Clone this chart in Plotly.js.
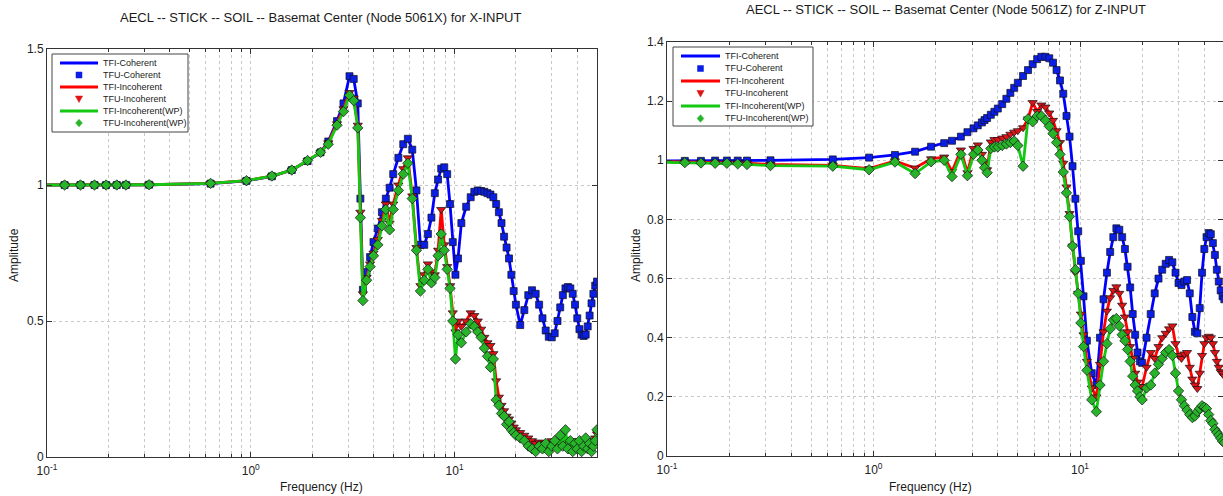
<!DOCTYPE html>
<html><head><meta charset="utf-8">
<script src="https://cdn.plot.ly/plotly-3.0.1.min.js"></script>
<style>html,body{margin:0;padding:0;background:#fff;}#chart{width:1223px;height:496px;}</style>
</head><body><div id="chart"></div>
<script>
// Frequency grid (Hz)
const freq = [
  0.1, 0.122, 0.146, 0.171, 0.195, 0.22, 0.244, 0.317,
  0.635, 0.952, 1.27, 1.59, 1.9, 2.2, 2.4, 2.65, 2.85,
  3.05, 3.2, 3.35, 3.45, 3.55, 3.7, 3.85, 4.0,
  4.2, 4.4, 4.6, 4.8, 5.0, 5.3, 5.6, 5.9, 6.2, 6.5,
  6.8, 7.1, 7.4, 7.7, 8.0, 8.3, 8.6, 8.9, 9.2, 9.5, 9.8,
  10.1, 10.4, 10.8, 11.4, 12, 12.5, 13, 13.5, 14, 14.5,
  15, 15.5, 16, 16.5, 17, 17.5, 18, 18.5, 19, 19.5,
  20, 21, 22, 23, 24, 25, 26, 27, 28, 29, 30, 31, 32, 33, 34, 35,
  36, 37, 38, 39, 40, 41, 42, 43, 44, 45, 46, 47, 48, 49, 50
];

// X-INPUT, Node 5061X
const xCoherent = [
  1.000, 1.000, 1.000, 1.000, 1.000, 1.000, 1.000, 1.001,
  1.005, 1.015, 1.032, 1.055, 1.088, 1.12, 1.16, 1.235, 1.30,
  1.40, 1.39, 1.30, 0.95, 0.615, 0.68, 0.735, 0.79,
  0.84, 0.90, 0.95, 0.99, 1.04, 1.10, 1.15, 1.17, 1.13, 0.98,
  0.78, 0.78, 0.82, 0.88, 0.97, 1.02, 1.06, 1.065, 1.04, 0.93, 0.79,
  0.67, 0.73, 0.86, 0.92, 0.955, 0.975, 0.98, 0.978, 0.975, 0.97,
  0.965, 0.955, 0.93, 0.90, 0.86, 0.81, 0.77, 0.73, 0.67, 0.61,
  0.56, 0.485, 0.54, 0.595, 0.613, 0.60, 0.56, 0.51, 0.465, 0.442, 0.44, 0.455, 0.50, 0.55, 0.595, 0.62,
  0.625, 0.62, 0.60, 0.56, 0.51, 0.47, 0.45, 0.445, 0.45, 0.48, 0.52, 0.565, 0.60, 0.63, 0.645
];
const xIncoherent = [
  1.000, 1.000, 1.000, 1.000, 1.000, 1.000, 1.000, 1.001,
  1.006, 1.016, 1.033, 1.055, 1.09, 1.12, 1.155, 1.225, 1.28,
  1.34, 1.32, 1.22, 0.90, 0.60, 0.66, 0.71, 0.75,
  0.80, 0.87, 0.93, 0.86, 0.93, 1.00, 1.06, 1.10, 0.96, 0.77,
  0.63, 0.67, 0.71, 0.68, 0.67, 0.76, 0.91, 0.78, 0.70, 0.63, 0.53,
  0.46, 0.50, 0.48, 0.50, 0.53, 0.52, 0.50, 0.47, 0.44, 0.42,
  0.41, 0.38, 0.28, 0.22, 0.19, 0.17, 0.15, 0.14, 0.125, 0.11,
  0.10, 0.09, 0.08, 0.07, 0.06, 0.05, 0.055, 0.05, 0.045, 0.05, 0.06, 0.05, 0.055, 0.05, 0.06, 0.065,
  0.055, 0.05, 0.06, 0.055, 0.05, 0.05, 0.055, 0.05, 0.045, 0.05, 0.05, 0.055, 0.06, 0.07, 0.085
];
const xIncoherentWP = [
  1.000, 1.000, 1.000, 1.000, 1.000, 1.000, 1.000, 1.001,
  1.006, 1.016, 1.033, 1.055, 1.09, 1.12, 1.15, 1.22, 1.27,
  1.33, 1.31, 1.21, 0.88, 0.575, 0.65, 0.70, 0.74,
  0.78, 0.85, 0.91, 0.835, 0.91, 0.98, 1.04, 1.08, 0.95, 0.76,
  0.61, 0.65, 0.69, 0.64, 0.66, 0.74, 0.82, 0.76, 0.69, 0.62, 0.50,
  0.36, 0.45, 0.42, 0.46, 0.49, 0.48, 0.46, 0.44, 0.40, 0.37,
  0.33, 0.36, 0.21, 0.19, 0.16, 0.15, 0.12, 0.13, 0.10, 0.09,
  0.08, 0.07, 0.06, 0.04, 0.03, 0.02, 0.04, 0.03, 0.05, 0.02, 0.04, 0.06, 0.03, 0.08, 0.04, 0.10,
  0.03, 0.06, 0.02, 0.05, 0.03, 0.06, 0.02, 0.04, 0.07, 0.03, 0.05, 0.02, 0.04, 0.06, 0.10
];

// Z-INPUT, Node 5061Z
const zCoherent = [
  0.998, 0.998, 0.998, 0.999, 0.999, 0.999, 0.999, 1.0,
  1.003, 1.009, 1.018, 1.029, 1.046, 1.058, 1.066, 1.08, 1.095,
  1.108, 1.118, 1.128, 1.136, 1.143, 1.154, 1.164, 1.175,
  1.19, 1.208, 1.228, 1.245, 1.262, 1.285, 1.305, 1.325, 1.342, 1.35,
  1.35, 1.345, 1.33, 1.305, 1.27, 1.225, 1.15, 1.08, 0.98, 0.87, 0.76,
  0.66, 0.54, 0.39, 0.28, 0.24, 0.40, 0.53, 0.62, 0.69, 0.74,
  0.77, 0.765, 0.74, 0.70, 0.64, 0.57, 0.48, 0.41, 0.35, 0.32,
  0.315, 0.40, 0.48, 0.55, 0.60, 0.63, 0.65, 0.663, 0.655, 0.62, 0.585, 0.578, 0.59, 0.595, 0.55, 0.47,
  0.42, 0.415, 0.50, 0.62, 0.70, 0.74, 0.754, 0.75, 0.72, 0.68, 0.63, 0.59, 0.56, 0.54, 0.53
];
const zIncoherent = [
  0.995, 0.994, 0.993, 0.993, 0.992, 0.991, 0.99, 0.986,
  0.983, 0.972, 0.998, 0.974, 1.005, 1.011, 0.962, 1.035, 0.958,
  1.04, 1.052, 1.02, 0.99, 0.968, 1.062, 1.07, 1.07,
  1.075, 1.08, 1.088, 1.095, 1.10, 1.11, 1.14, 1.195, 1.165, 1.187,
  1.18, 1.16, 1.135, 1.10, 1.06, 0.99, 0.91, 0.82, 0.71, 0.62, 0.55,
  0.48, 0.41, 0.32, 0.23, 0.20, 0.31, 0.42, 0.49, 0.535, 0.56,
  0.572, 0.55, 0.51, 0.47, 0.42, 0.37, 0.33, 0.28, 0.25, 0.235,
  0.235, 0.30, 0.35, 0.33, 0.37, 0.40, 0.415, 0.43, 0.44, 0.38, 0.34, 0.33, 0.345, 0.35, 0.30, 0.26,
  0.24, 0.228, 0.28, 0.34, 0.38, 0.40, 0.405, 0.40, 0.38, 0.35, 0.32, 0.30, 0.285, 0.28, 0.27
];
const zIncoherentWP = [
  0.993, 0.992, 0.991, 0.99, 0.99, 0.988, 0.986, 0.982,
  0.98, 0.968, 0.994, 0.955, 0.995, 1.0, 0.945, 1.02, 0.948,
  1.02, 1.035, 1.0, 0.975, 0.958, 1.04, 1.045, 1.045,
  1.05, 1.055, 1.06, 1.065, 1.05, 0.98, 1.14, 1.13, 1.15, 1.15,
  1.135, 1.115, 1.09, 1.06, 1.02, 0.96, 0.89, 0.81, 0.71, 0.63, 0.55,
  0.45, 0.37, 0.29, 0.19, 0.15, 0.24, 0.32, 0.38, 0.43, 0.46,
  0.465, 0.44, 0.41, 0.39, 0.36, 0.32, 0.27, 0.24, 0.22, 0.20,
  0.19, 0.23, 0.24, 0.28, 0.31, 0.33, 0.35, 0.36, 0.34, 0.28, 0.22, 0.19, 0.17, 0.155, 0.14, 0.13,
  0.135, 0.15, 0.16, 0.17, 0.165, 0.16, 0.14, 0.12, 0.11, 0.09, 0.08, 0.07, 0.06, 0.05, 0.045
];

const seriesNames = ['TFI-Coherent','TFU-Coherent','TFI-Incoherent','TFU-Incoherent','TFI-Incoherent(WP)','TFU-Incoherent(WP)'];
const titles = ['AECL -- STICK -- SOIL -- Basemat Center (Node 5061X) for X-INPUT',
                'AECL -- STICK -- SOIL -- Basemat Center (Node 5061Z) for Z-INPUT'];
const xTickVals = [0.1, 1, 10];
const xTickText = ['10<sup>-1</sup>', '10<sup>0</sup>', '10<sup>1</sup>'];
const xMinor = [0.2,0.3,0.4,0.5,0.6,0.7,0.8,0.9,2,3,4,5,6,7,8,9,20,30,40];

const W = 1223, H = 496;
const PX = x => x / W, PY = y => 1 - y / H;
const FONT = 'Liberation Sans, Arial, sans-serif';

const lineColors = ['#0000ff', '#ff0000', '#14c814'];
const markColors = ['#0a1ee6', '#dc1414', '#28b428'];
const markSymbols = ['square', 'triangle-down', 'diamond'];
const markSizes = [7, 8, 8];

function panelTraces(xa, ya, vals) {
  const out = [];
  vals.forEach((v, i) => {
    out.push({x: freq, y: v, xaxis: xa, yaxis: ya, type: 'scatter', mode: 'lines',
      name: seriesNames[2*i], line: {color: lineColors[i], width: 2.8}, hoverinfo: 'skip'});
    out.push({x: freq.slice(1), y: v.slice(1), xaxis: xa, yaxis: ya, type: 'scatter', mode: 'markers',
      name: seriesNames[2*i+1], marker: {symbol: markSymbols[i], size: markSizes[i], color: markColors[i],
      line: {color: '#101018', width: 0.7}}, hoverinfo: 'skip'});
  });
  return out;
}

const data = [
  ...panelTraces('x', 'y', [xCoherent, xIncoherent, xIncoherentWP]),
  ...panelTraces('x2', 'y2', [zCoherent, zIncoherent, zIncoherentWP])
];

function xAxis(domain, anchor, rng) {
  return {domain: domain, anchor: anchor, type: 'log', range: rng,
    tickvals: xTickVals, ticktext: xTickText, ticks: 'inside', ticklen: 5, tickcolor: '#333',
    ticklabelstandoff: 3,
    showline: true, linecolor: '#333', linewidth: 1, mirror: 'ticks',
    showgrid: true, gridcolor: '#c8c8c8', griddash: 'dot', gridwidth: 1, zeroline: false,
    minor: {tickvals: xMinor, ticks: 'inside', ticklen: 3, tickcolor: '#333', showgrid: true,
      gridcolor: '#c8c8c8', griddash: 'dot', gridwidth: 1},
    tickfont: {family: FONT, size: 12, color: '#222'}, automargin: false};
}
function yAxis(domain, anchor, rng, dt) {
  return {domain: domain, anchor: anchor, range: rng, dtick: dt, tick0: 0,
    ticks: 'inside', ticklen: 5, tickcolor: '#333',
    showline: true, linecolor: '#333', linewidth: 1, mirror: 'ticks',
    showgrid: true, gridcolor: '#c8c8c8', griddash: 'dot', gridwidth: 1, zeroline: false,
    tickfont: {family: FONT, size: 12, color: '#222'}, automargin: false};
}

const annotations = [];
const shapes = [];
function txt(x, y, text, size, opts) {
  annotations.push(Object.assign({x: PX(x), y: PY(y), xref: 'paper', yref: 'paper', text: text,
    showarrow: false, xanchor: 'center', yanchor: 'middle',
    font: {family: FONT, size: size, color: '#1a1a1a'}}, opts || {}));
}
txt(320, 17, titles[0], 13);
txt(946, 10, titles[1], 13);
txt(321, 487, 'Frequency (Hz)', 12);
txt(930, 487, 'Frequency (Hz)', 12);
txt(14, 255, 'Amplitude', 12, {textangle: -90});
txt(636, 255, 'Amplitude', 12, {textangle: -90});

function legendBox(x0, y0, x1, y1, rows, lx0, lx1, mx, tx) {
  shapes.push({type: 'rect', xref: 'paper', yref: 'paper', x0: PX(x0), x1: PX(x1), y0: PY(y0), y1: PY(y1),
    line: {color: '#444', width: 1}, fillcolor: '#ffffff', layer: 'above'});
  rows.forEach((ry, k) => {
    const i = Math.floor(k / 2);
    if (k % 2 === 0) {
      shapes.push({type: 'line', xref: 'paper', yref: 'paper', x0: PX(lx0), x1: PX(lx1), y0: PY(ry), y1: PY(ry),
        line: {color: lineColors[i], width: 2.8}, layer: 'above'});
    } else {
      let pts;
      if (i === 0) pts = [[-3,-3],[3,-3],[3,3],[-3,3]];
      else if (i === 1) pts = [[-3.6,-3],[3.6,-3],[0,3.6]];
      else pts = [[0,-3.8],[3.4,0],[0,3.8],[-3.4,0]];
      const path = pts.map((p, j) => (j ? 'L' : 'M') + PX(mx + p[0]).toFixed(5) + ',' + PY(ry + p[1]).toFixed(5)).join(' ') + ' Z';
      shapes.push({type: 'path', xref: 'paper', yref: 'paper', path: path,
        fillcolor: markColors[i], line: {color: markColors[i], width: 0.5}, layer: 'above'});
    }
    txt(tx, ry, seriesNames[k], 9, {xanchor: 'left'});
  });
}
legendBox(52, 54, 188, 132, [63, 75, 87, 99, 111, 123], 60, 98, 79, 101);
legendBox(673, 47, 813, 126, [56, 68.5, 81, 93.5, 106, 118.5], 681, 720, 700.5, 723);

const layout = {
  width: W, height: H, margin: {l: 0, r: 0, t: 0, b: 0},
  paper_bgcolor: '#ffffff', plot_bgcolor: '#ffffff', showlegend: false,
  font: {family: FONT},
  xaxis: xAxis([47 / W, 597 / W], 'y', [-1, Math.log10(50)]),
  yaxis: yAxis([(H - 457) / H, (H - 49) / H], 'x', [0, 1.5], 0.5),
  xaxis2: xAxis([667 / W, 1], 'y2', [-1, -1 + (W - 667) / 206.5]),
  yaxis2: yAxis([(H - 456) / H, (H - 42) / H], 'x2', [0, 1.4], 0.2),
  annotations: annotations, shapes: shapes
};

Plotly.newPlot('chart', data, layout, {displayModeBar: false, staticPlot: true});
</script></body></html>
